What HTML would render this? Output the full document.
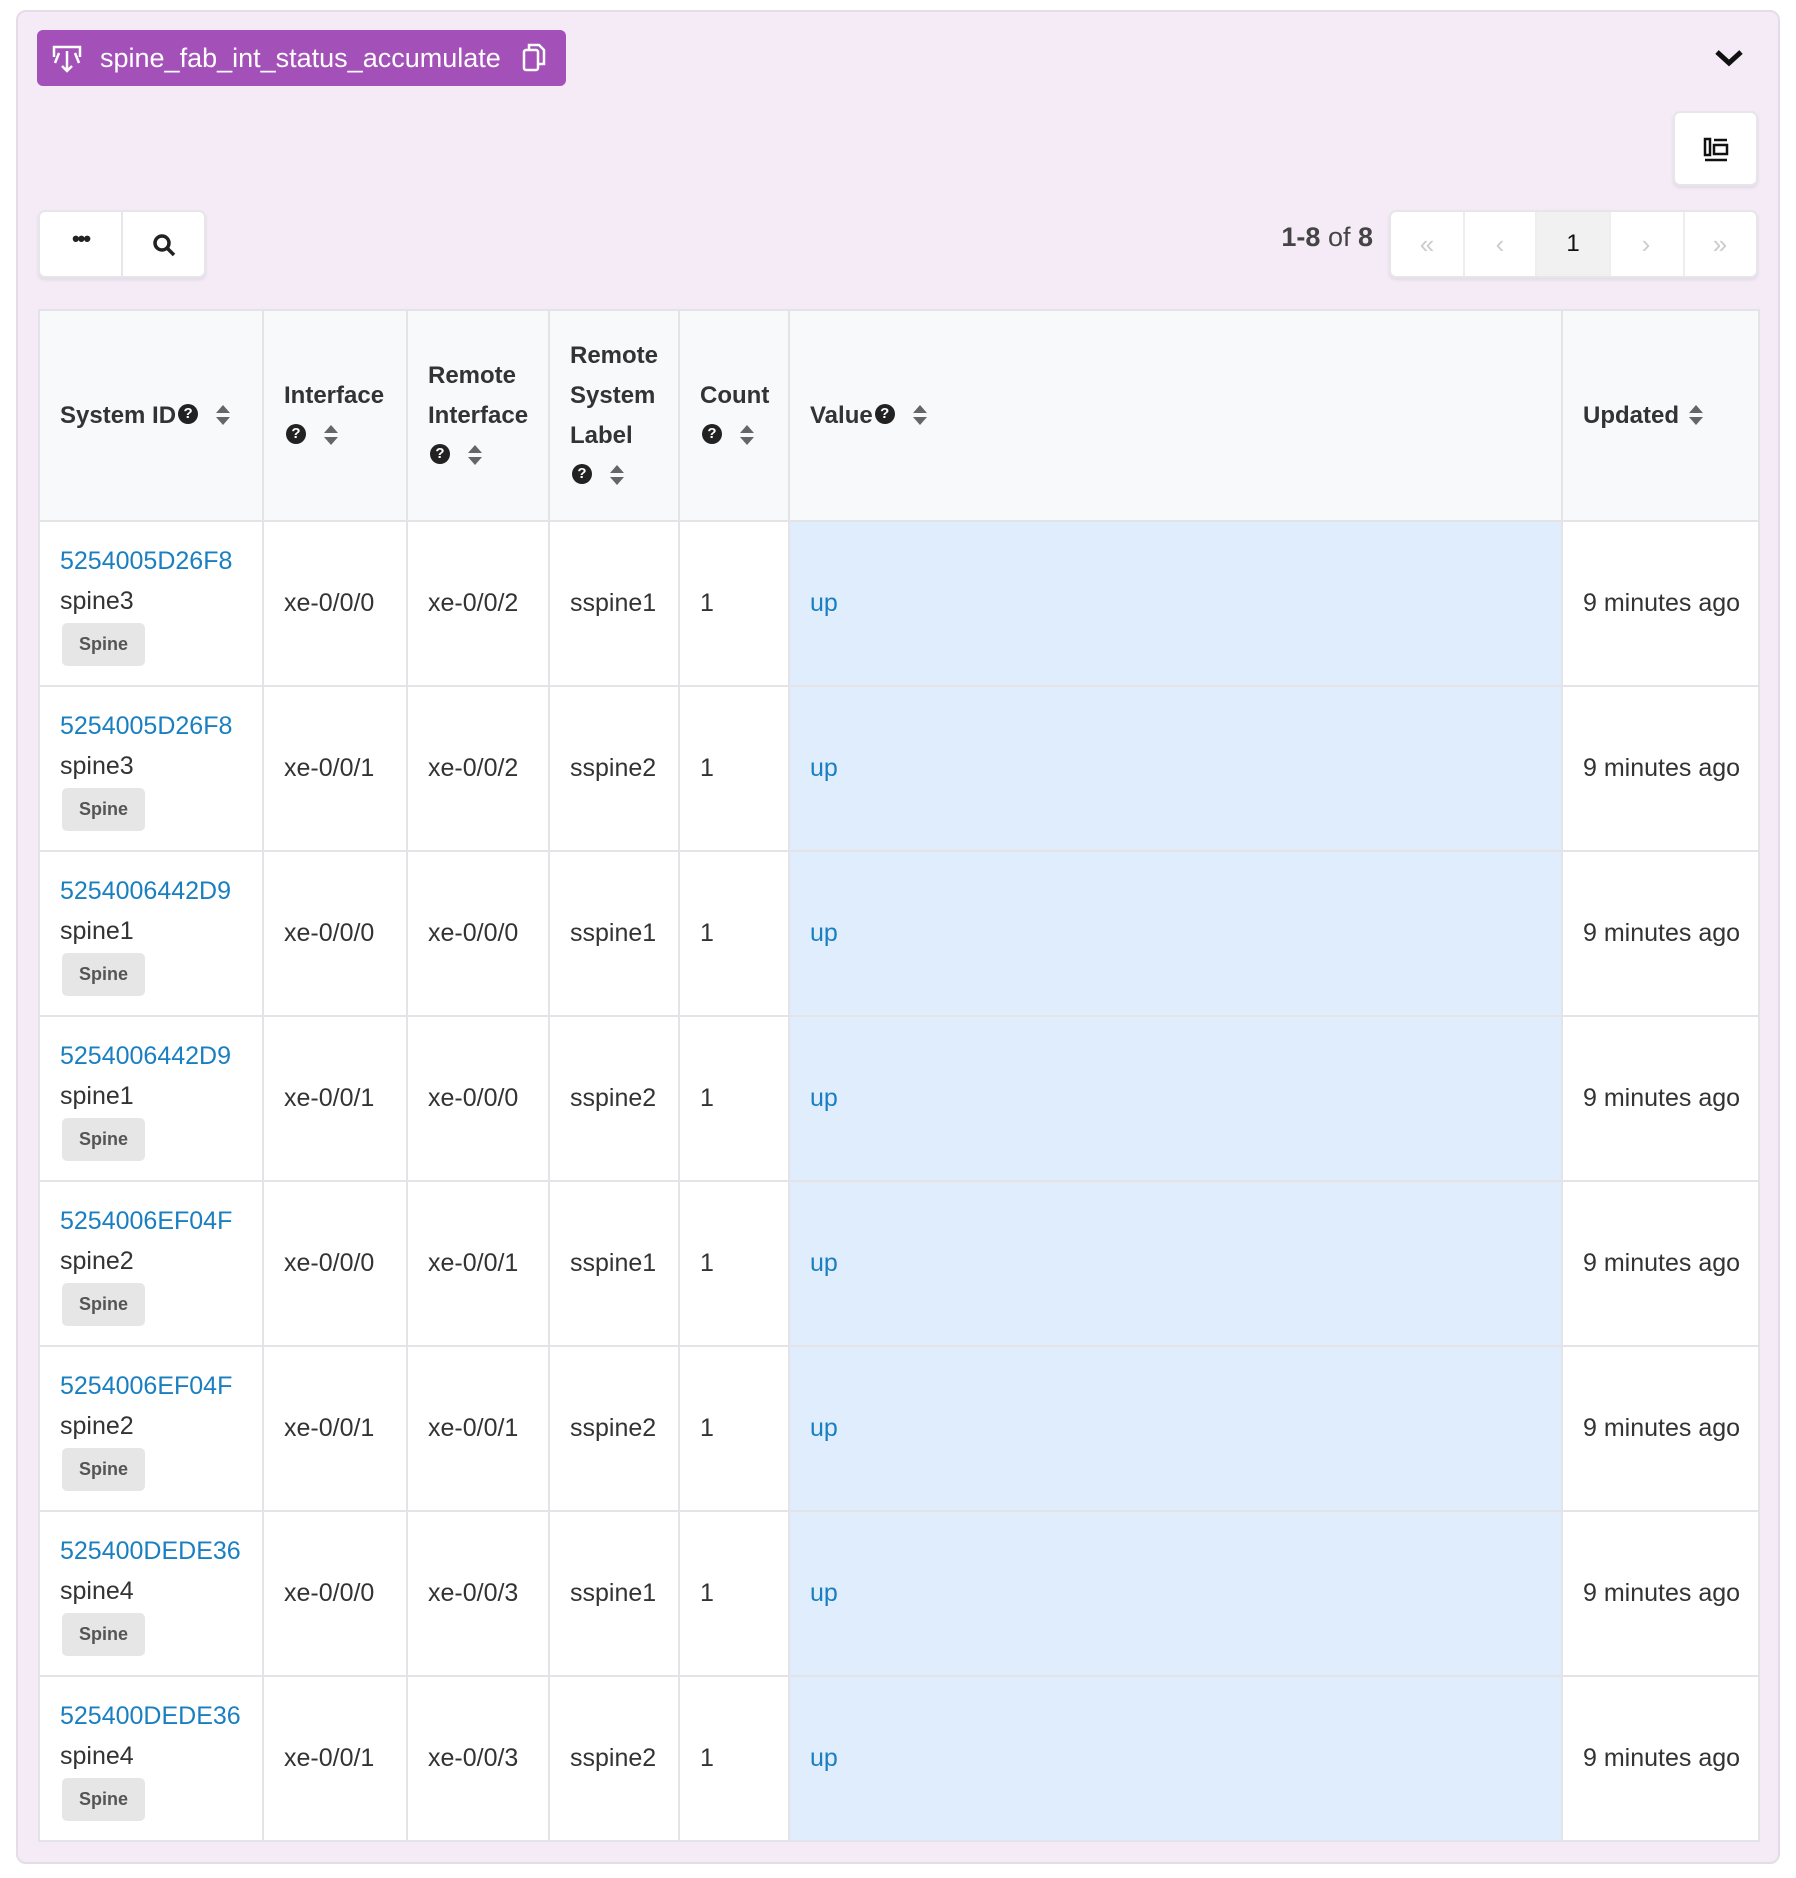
<!DOCTYPE html>
<html><head><meta charset="utf-8"><style>
*{box-sizing:border-box;margin:0;padding:0}
body{width:1796px;height:1878px;background:#fff;font-family:"Liberation Sans",sans-serif;color:#333;position:relative;overflow:hidden}
.panel{position:absolute;left:16px;top:10px;width:1764px;height:1854px;background:#f4ebf7;border:2px solid #e4dde8;border-radius:10px}
.title{position:absolute;left:37px;top:30px;width:529px;height:56px;background:#a351b8;border-radius:6px;color:#fff;font-size:27px;line-height:56px;padding-left:63px}
.btn{position:absolute;background:#fff;border:2px solid #e6e6ea;border-radius:7px;box-shadow:0 2px 3px rgba(0,0,0,.08)}
table{position:absolute;left:38px;top:309px;border-collapse:collapse;table-layout:fixed;width:1720px;background:#fff}
td,th{border:2px solid #e4e4e8;padding:0 20px;text-align:left;vertical-align:middle;font-size:25px}
th{background:#f8f9fb;height:211px;font-weight:bold;line-height:40px;color:#333;white-space:nowrap;font-size:24px}
td{height:165px;white-space:nowrap}
td.v{background:#dfedfc;color:#1a7fc1}
.id{color:#1a7fc1;line-height:40px}
.badge{display:inline-block;background:#e6e6e6;color:#555;font-weight:bold;font-size:18px;width:83px;height:43px;line-height:43px;text-align:center;border-radius:5px;margin-left:2px;margin-top:2px}
.q{display:inline-block;width:20px;height:20px;border-radius:50%;background:#222;color:#fff;font-size:15px;line-height:20px;text-align:center;font-weight:bold;vertical-align:5px;margin-left:2px}
.s{display:inline-block;width:14px;height:22px;position:relative;vertical-align:-4px;margin-left:18px}
.s:before{content:"";position:absolute;left:0;top:0;border:7px solid transparent;border-bottom:8px solid #666;border-top:0}
.s:after{content:"";position:absolute;left:0;top:12px;border:7px solid transparent;border-top:8px solid #666;border-bottom:0}
.pg{position:absolute;top:0;height:64px;width:72px;text-align:center;line-height:64px;font-size:26px;color:#ccc;border-left:2px solid #eee}
</style></head><body>
<div class="panel"></div>
<div class="title"><svg style="position:absolute;left:14px;top:13px" width="32" height="32" viewBox="0 0 32 32" fill="none" stroke="#fff" stroke-width="2.5"><path d="M3 14V4h26v10M16 8v20M11 23l5 5 5-5M8 10l-4 10M24 10l4 10"/></svg>spine_fab_int_status_accumulate<svg style="position:absolute;left:484px;top:12px" width="26" height="32" viewBox="0 0 26 32" fill="none" stroke="#fff" stroke-width="2.5"><rect x="3" y="8" width="14" height="20" rx="2"/><path d="M8 8V3h10l5 5v14h-6"/></svg></div>
<svg style="position:absolute;left:1714px;top:48px" width="30" height="20" viewBox="0 0 30 20"><path d="M3 4l12 11L27 4" stroke="#111" stroke-width="5" fill="none"/></svg>
<div class="btn" style="left:1673px;top:111px;width:85px;height:75px"><svg style="position:absolute;left:28px;top:24px" width="26" height="26" viewBox="0 0 26 26" fill="none" stroke="#111" stroke-width="2.5"><rect x="2" y="2" width="5" height="16"/><path d="M11 3h13"/><rect x="11" y="8" width="13" height="9"/><path d="M2 23h22"/></svg></div>
<div class="btn" style="left:38px;top:210px;width:168px;height:68px"><div style="position:absolute;left:81px;top:0;width:2px;height:66px;background:#e6e6ea"></div><div style="position:absolute;left:0;width:81px;top:14px;text-align:center;font-size:22px;font-weight:bold;color:#222;letter-spacing:-2px">•••</div><svg style="position:absolute;left:112px;top:21px" width="26" height="26" viewBox="0 0 26 26" fill="none" stroke="#222" stroke-width="3.5"><circle cx="10" cy="10" r="7"/><path d="M15 15l7 7"/></svg></div>
<div style="position:absolute;left:1240px;width:133px;top:222px;text-align:right;font-size:27px;color:#444;font-weight:bold"><span>1-8</span> <span style="font-weight:normal">of</span> 8</div>
<div class="btn" style="left:1389px;top:210px;width:369px;height:68px;overflow:hidden">
<div class="pg" style="left:0;border-left:0">«</div><div class="pg" style="left:72px">‹</div><div class="pg" style="left:144px;background:#f1f1f1;color:#111;width:74px;font-size:24px">1</div><div class="pg" style="left:218px">›</div><div class="pg" style="left:292px">»</div></div>
<table>
<colgroup><col style="width:224px"><col style="width:144px"><col style="width:142px"><col style="width:130px"><col style="width:110px"><col style="width:773px"><col style="width:197px"></colgroup>
<tr><th>System ID<span class="q">?</span><span class="s"></span></th><th>Interface<br><span class="q">?</span><span class="s"></span></th><th>Remote<br>Interface<br><span class="q">?</span><span class="s"></span></th><th>Remote<br>System<br>Label<br><span class="q">?</span><span class="s"></span></th><th>Count<br><span class="q">?</span><span class="s"></span></th><th>Value<span class="q">?</span><span class="s"></span></th><th>Updated<span class="s" style="margin-left:10px"></span></th></tr>
<tr><td><div class="id">5254005D26F8</div><div style="line-height:40px">spine3</div><span class="badge">Spine</span></td><td>xe-0/0/0</td><td>xe-0/0/2</td><td>sspine1</td><td>1</td><td class="v">up</td><td>9 minutes ago</td></tr>
<tr><td><div class="id">5254005D26F8</div><div style="line-height:40px">spine3</div><span class="badge">Spine</span></td><td>xe-0/0/1</td><td>xe-0/0/2</td><td>sspine2</td><td>1</td><td class="v">up</td><td>9 minutes ago</td></tr>
<tr><td><div class="id">5254006442D9</div><div style="line-height:40px">spine1</div><span class="badge">Spine</span></td><td>xe-0/0/0</td><td>xe-0/0/0</td><td>sspine1</td><td>1</td><td class="v">up</td><td>9 minutes ago</td></tr>
<tr><td><div class="id">5254006442D9</div><div style="line-height:40px">spine1</div><span class="badge">Spine</span></td><td>xe-0/0/1</td><td>xe-0/0/0</td><td>sspine2</td><td>1</td><td class="v">up</td><td>9 minutes ago</td></tr>
<tr><td><div class="id">5254006EF04F</div><div style="line-height:40px">spine2</div><span class="badge">Spine</span></td><td>xe-0/0/0</td><td>xe-0/0/1</td><td>sspine1</td><td>1</td><td class="v">up</td><td>9 minutes ago</td></tr>
<tr><td><div class="id">5254006EF04F</div><div style="line-height:40px">spine2</div><span class="badge">Spine</span></td><td>xe-0/0/1</td><td>xe-0/0/1</td><td>sspine2</td><td>1</td><td class="v">up</td><td>9 minutes ago</td></tr>
<tr><td><div class="id">525400DEDE36</div><div style="line-height:40px">spine4</div><span class="badge">Spine</span></td><td>xe-0/0/0</td><td>xe-0/0/3</td><td>sspine1</td><td>1</td><td class="v">up</td><td>9 minutes ago</td></tr>
<tr><td><div class="id">525400DEDE36</div><div style="line-height:40px">spine4</div><span class="badge">Spine</span></td><td>xe-0/0/1</td><td>xe-0/0/3</td><td>sspine2</td><td>1</td><td class="v">up</td><td>9 minutes ago</td></tr>
</table>
</body></html>
